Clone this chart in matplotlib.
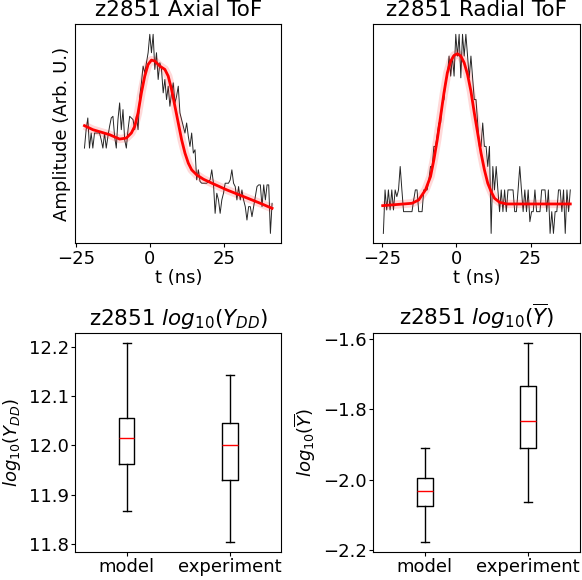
"""Two ToF traces with fits (top) and box plots model vs experiment (bottom)."""

import numpy as np
import matplotlib

matplotlib.use("Agg")
import matplotlib.pyplot as plt

# --- Axial ToF: measured trace (arb. units) on its sample clock ---
axial_t_range = (-22.05, 41.27)
axial_amp = [
    2.65, 3.20, 3.55, 2.65, 3.10, 2.65, 3.10, 3.10, 3.10, 3.10,
    2.90, 2.65, 3.10, 2.65, 3.00, 3.30, 3.55, 3.60, 3.00, 2.65,
    3.50, 4.00, 3.20, 3.80, 2.90, 2.65, 3.20, 3.60, 3.55, 3.50,
    3.20, 3.60, 3.20, 4.20, 4.60, 5.10, 4.90, 5.20, 5.50, 6.05,
    5.50, 6.05, 5.00, 5.50, 4.70, 5.20, 5.00, 4.30, 4.70, 4.10,
    4.50, 3.90, 4.30, 4.60, 4.00, 4.20, 4.50, 3.70, 3.50, 3.30,
    3.10, 3.40, 3.00, 2.70, 3.10, 2.50, 2.60, 1.70, 2.00, 1.65,
    1.60, 1.60, 1.60, 1.60, 1.65, 1.70, 2.00, 1.60, 0.70, 1.30,
    1.10, 0.70, 1.10, 1.30, 1.60, 1.60, 1.60, 1.70, 2.00, 1.60,
    1.50, 1.10, 1.50, 1.10, 1.40, 1.10, 0.90, 0.50, 0.90, 0.90,
    0.60, 0.90, 1.20, 1.50, 1.55, 1.55, 0.90, 1.55, 1.10, 1.55,
    1.55, 0.10, 1.00,
]

# Axial fit (best model)
axial_fit_t = [
    -22.05, -19.22, -13.57, -10.18, -7.92, -6.22, -5.09, -3.96, -2.83, -1.70,
    -0.57, 0.57, 1.70, 3.39, 5.09, 6.22, 7.35, 8.48, 9.61, 10.74,
    11.87, 13.00, 14.13, 15.83, 18.09, 21.48, 26.01, 31.66, 37.31, 41.27,
]
axial_fit = [
    3.32, 3.20, 3.05, 2.92, 2.95, 3.10, 3.30, 3.70, 4.30, 4.80,
    5.15, 5.28, 5.25, 5.10, 5.00, 4.80, 4.40, 3.90, 3.40, 2.90,
    2.50, 2.20, 2.00, 1.85, 1.72, 1.58, 1.40, 1.20, 1.00, 0.85,
]

# --- Radial ToF ---
radial_t_range = (-24.67, 38.43)
radial_amp = [
    0.10, 1.40, 0.80, 1.40, 0.80, 1.40, 0.80, 1.40, 1.20, 1.40,
    2.10, 1.40, 0.75, 0.75, 0.75, 0.75, 0.75, 0.75, 1.10, 1.40,
    1.40, 0.75, 0.75, 0.75, 1.40, 1.40, 1.40, 1.70, 2.10, 2.10,
    2.70, 2.70, 3.05, 3.40, 3.40, 4.00, 4.10, 4.70, 4.80, 5.40,
    4.80, 5.40, 4.80, 6.05, 5.40, 6.05, 4.75, 6.05, 5.40, 6.05,
    5.40, 4.75, 5.40, 4.75, 4.10, 4.10, 3.40, 2.70, 2.70, 3.40,
    2.70, 2.70, 2.10, 2.70, 0.10, 2.10, 1.40, 2.10, 1.40, 0.75,
    1.40, 0.75, 1.40, 0.75, 1.40, 1.40, 1.40, 1.40, 0.75, 0.75,
    1.40, 2.10, 1.40, 0.75, 1.40, 0.75, 1.40, 0.45, 0.75, 0.75,
    1.40, 0.75, 0.75, 0.75, 1.40, 1.40, 1.40, 0.75, 1.40, 0.10,
    0.75, 0.10, 0.75, 0.75, 1.40, 1.40, 0.75, 1.40, 0.10, 1.40,
    0.75, 1.40,
]

radial_fit_t = [
    -24.90, -15.00, -12.73, -10.46, -8.75, -7.62, -6.48, -5.34, -4.21, -3.07,
    -1.93, -0.80, 0.34, 1.48, 2.61, 3.75, 4.89, 6.03, 7.16, 8.30,
    9.44, 10.57, 11.71, 12.85, 14.55, 16.83, 20.24, 38.43,
]
radial_fit = [
    0.93, 1.00, 1.10, 1.40, 1.80, 2.30, 2.90, 3.60, 4.30, 4.90,
    5.25, 5.42, 5.47, 5.40, 5.20, 4.85, 4.35, 3.70, 3.10, 2.50,
    2.00, 1.60, 1.35, 1.15, 1.03, 0.98, 0.98, 0.98,
]

# --- Box plot summaries: [model, experiment] ---
box_labels = ["model", "experiment"]

ydd_whislo = [11.866, 11.803]
ydd_q1 = [11.963, 11.930]
ydd_med = [12.014, 12.001]
ydd_q3 = [12.056, 12.045]
ydd_whishi = [12.208, 12.144]

ybar_whislo = [-2.179, -2.065]
ybar_q1 = [-2.077, -1.911]
ybar_med = [-2.032, -1.832]
ybar_q3 = [-1.995, -1.734]
ybar_whishi = [-1.909, -1.6105]

TITLE_SIZE = 15.5
TICK_SIZE = 13
YLABEL_SIZE = 13


def draw_tof(ax, t_range, amp, fit_t, fit, title):
    t = np.linspace(t_range[0], t_range[1], len(amp))
    ax.plot(t, amp, color="black", linewidth=0.7, alpha=0.85)
    # posterior spread, drawn as a faint halo around the fit
    ax.plot(fit_t, fit, color="red", linewidth=6, alpha=0.15, solid_capstyle="butt")
    ax.plot(fit_t, fit, color="red", linewidth=2)
    ax.set_title(title, fontsize=TITLE_SIZE)
    ax.set_xlabel("t (ns)", fontsize=TICK_SIZE, labelpad=1)
    ax.set_xticks([-25, 0, 25])
    ax.set_yticks([])
    ax.tick_params(labelsize=TICK_SIZE, length=3, pad=1.5)


def draw_box(ax, whislo, q1, med, q3, whishi, title, ylabel):
    stats = []
    for i, label in enumerate(box_labels):
        stats.append({
            "label": label,
            "whislo": whislo[i],
            "q1": q1[i],
            "med": med[i],
            "q3": q3[i],
            "whishi": whishi[i],
        })
    ax.bxp(
        stats,
        widths=0.15,
        showfliers=False,
        medianprops={"color": "red", "linewidth": 1},
        boxprops={"linewidth": 1},
        whiskerprops={"linewidth": 1},
        capprops={"linewidth": 1},
    )
    ax.set_title(title, fontsize=TITLE_SIZE)
    ax.set_ylabel(ylabel, fontsize=YLABEL_SIZE, labelpad=4)
    ax.tick_params(labelsize=TICK_SIZE, length=3, pad=1.5)


fig, axes = plt.subplots(2, 2, figsize=(5.82, 5.80), dpi=100)

draw_tof(axes[0, 0], axial_t_range, axial_amp, axial_fit_t, axial_fit, "z2851 Axial ToF")
axes[0, 0].set_ylabel("Amplitude (Arb. U.)", fontsize=YLABEL_SIZE, labelpad=3)
draw_tof(axes[0, 1], radial_t_range, radial_amp, radial_fit_t, radial_fit, "z2851 Radial ToF")

draw_box(axes[1, 0], ydd_whislo, ydd_q1, ydd_med, ydd_q3, ydd_whishi,
         r"z2851 $log_{10}(Y_{DD})$", r"$log_{10}(Y_{DD})$")
axes[1, 0].set_yticks([11.8, 11.9, 12.0, 12.1, 12.2])

draw_box(axes[1, 1], ybar_whislo, ybar_q1, ybar_med, ybar_q3, ybar_whishi,
         r"z2851 $log_{10}(\overline{Y})$", r"$log_{10}(\overline{Y})$")
axes[1, 1].set_yticks([-2.2, -2.0, -1.8, -1.6])

fig.subplots_adjust(left=0.129, right=0.996, top=0.958, bottom=0.048,
                    wspace=0.445, hspace=0.41)

fig.savefig("out.png", dpi=100)
